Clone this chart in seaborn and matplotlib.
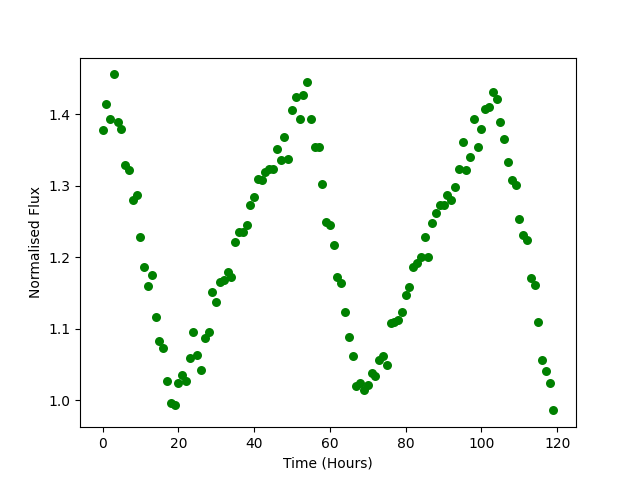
import matplotlib
matplotlib.use("Agg")
import matplotlib.pyplot as plt
import seaborn as sns
import numpy as np
import pandas as pd

hours = list(range(120))
flux = [
    1.378, 1.414, 1.393, 1.456, 1.390, 1.379, 1.329, 1.322, 1.281, 1.287,
    1.229, 1.186, 1.160, 1.175, 1.117, 1.083, 1.073, 1.027, 0.996, 0.993,
    1.024, 1.035, 1.027, 1.059, 1.095, 1.064, 1.043, 1.087, 1.095, 1.151,
    1.138, 1.166, 1.168, 1.180, 1.173, 1.221, 1.236, 1.235, 1.246, 1.274,
    1.285, 1.309, 1.308, 1.320, 1.323, 1.324, 1.351, 1.336, 1.369, 1.338,
    1.406, 1.424, 1.394, 1.427, 1.446, 1.394, 1.355, 1.354, 1.303, 1.250,
    1.246, 1.217, 1.173, 1.164, 1.123, 1.088, 1.062, 1.020, 1.025, 1.015,
    1.021, 1.038, 1.034, 1.056, 1.062, 1.049, 1.108, 1.109, 1.113, 1.124,
    1.148, 1.158, 1.187, 1.192, 1.200, 1.228, 1.200, 1.248, 1.262, 1.273,
    1.273, 1.287, 1.280, 1.298, 1.323, 1.361, 1.322, 1.341, 1.394, 1.355,
    1.380, 1.408, 1.410, 1.431, 1.422, 1.389, 1.366, 1.333, 1.308, 1.301,
    1.254, 1.232, 1.225, 1.171, 1.161, 1.109, 1.056, 1.041, 1.025, 0.986,
]

df = pd.DataFrame({"Time (Hours)": hours, "Normalised Flux": flux})

fig, ax = plt.subplots(figsize=(6.4, 4.8), dpi=100)
sns.scatterplot(data=df, x="Time (Hours)", y="Normalised Flux", color="green",
                s=42, linewidth=0, ax=ax)
ax.set_xlabel("Time (Hours)")
ax.set_ylabel("Normalised Flux")
fig.savefig("out.png", dpi=100)
